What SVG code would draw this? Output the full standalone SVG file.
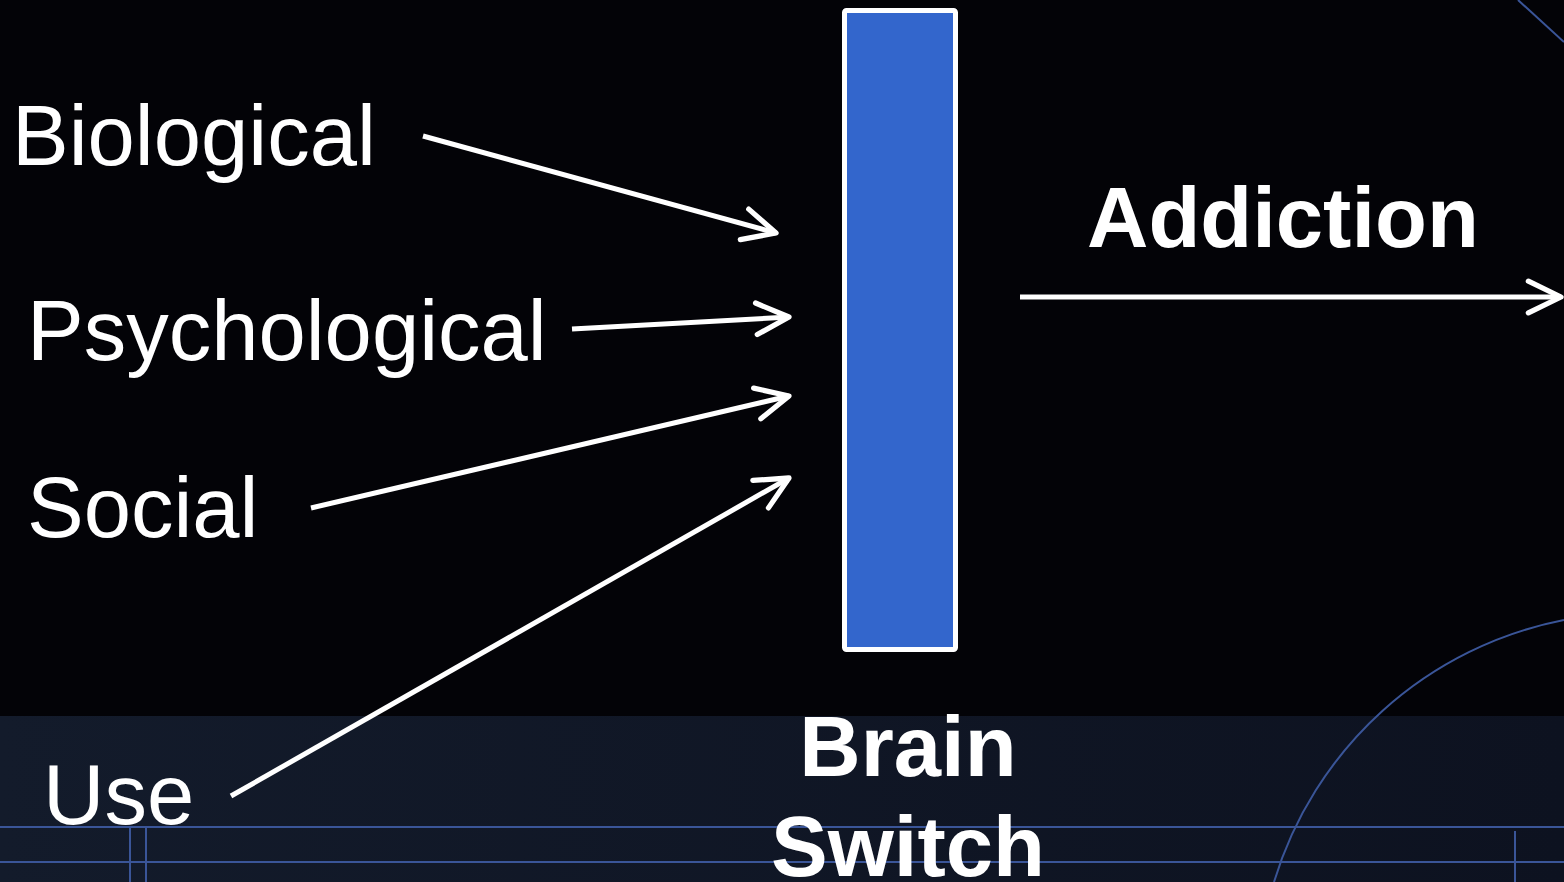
<svg xmlns="http://www.w3.org/2000/svg" width="1564" height="882" viewBox="0 0 1564 882">
  <style>
    .lbl { font-family: "Liberation Sans", Arial, sans-serif; fill: #ffffff; font-size: 85px; }
    .bold { font-weight: bold; }
    .deco { stroke: #3a5598; stroke-width: 2; fill: none; }
    .conn { stroke: #ffffff; stroke-width: 5; fill: none; marker-end: url(#chevron); }
  </style>
  <defs>
    <marker id="chevron" markerUnits="userSpaceOnUse" markerWidth="40" markerHeight="40" viewBox="-34 -18 38 36" refX="0" refY="0" orient="auto">
      <path d="M-31,-15 L0,0 L-31,15" fill="none" stroke="#ffffff" stroke-width="5" stroke-linecap="round" stroke-linejoin="round"/>
    </marker>
    <linearGradient id="band" x1="0" y1="0" x2="1" y2="0">
      <stop offset="0" stop-color="#131b2b"/>
      <stop offset="1" stop-color="#0d1220"/>
    </linearGradient>
  </defs>

  <!-- background -->
  <rect x="0" y="0" width="1564" height="882" fill="#030307"/>
  <rect x="0" y="716" width="1564" height="166" fill="url(#band)"/>

  <!-- decorative backdrop lines -->
  <g id="backdrop">
    <line class="deco" x1="1518" y1="0" x2="1564" y2="42"/>
    <path class="deco" d="M1564,620 A379,379 0 0 0 1274,882"/>
    <line class="deco" x1="0" y1="827" x2="1564" y2="827"/>
    <line class="deco" x1="0" y1="862" x2="1564" y2="862"/>
    <line class="deco" x1="130" y1="827" x2="130" y2="882"/>
    <line class="deco" x1="146" y1="827" x2="146" y2="882"/>
    <line class="deco" x1="1515" y1="831" x2="1515" y2="882"/>
  </g>

  <!-- central switch bar -->
  <g id="brain-switch">
    <rect x="844.5" y="10.5" width="111" height="639" rx="2" fill="#3366cc" stroke="#ffffff" stroke-width="5"/>
    <text class="lbl bold" x="908" y="776" text-anchor="middle">Brain</text>
    <text class="lbl bold" x="908" y="876" text-anchor="middle">Switch</text>
  </g>

  <g id="biological"><text class="lbl" x="12" y="165">Biological</text></g>
  <g id="psychological"><text class="lbl" x="27" y="360">Psychological</text></g>
  <g id="social"><text class="lbl" x="27" y="537">Social</text></g>
  <g id="use"><text class="lbl" x="43" y="824">Use</text></g>
  <g id="addiction"><text class="lbl bold" x="1087" y="247">Addiction</text></g>

  <!-- connectors -->
  <g id="connectors">
    <line class="conn" x1="423" y1="136" x2="776" y2="233"/>
    <line class="conn" x1="572" y1="329" x2="789" y2="317"/>
    <line class="conn" x1="311" y1="508" x2="789" y2="396"/>
    <line class="conn" x1="231" y1="796" x2="789" y2="478"/>
    <line class="conn" x1="1020" y1="297" x2="1561" y2="297"/>
  </g>
</svg>
